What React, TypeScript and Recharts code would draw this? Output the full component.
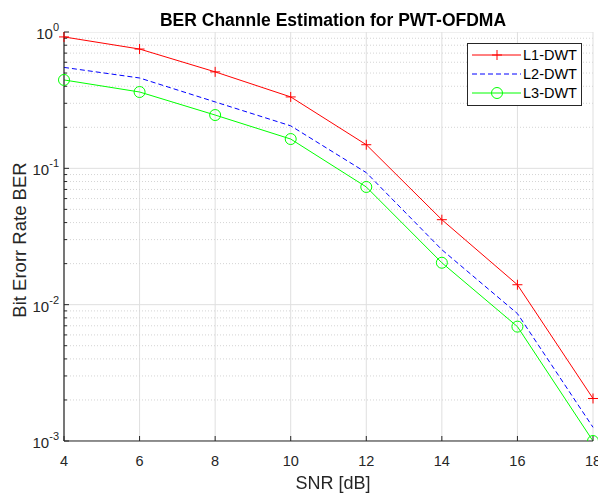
import React from 'react';
import { LineChart, Line, XAxis, YAxis, CartesianGrid, ReferenceLine } from 'recharts';

// SNR values (dB) and BER per wavelet level
const snr = [4, 6, 8, 10, 12, 14, 16, 18];
const l1Dwt = [0.92, 0.75, 0.51, 0.334, 0.149, 0.042, 0.014, 0.00205];
const l2Dwt = [0.55, 0.46, 0.307, 0.205, 0.093, 0.0253, 0.0086, 0.00126];
const l3Dwt = [0.445, 0.363, 0.246, 0.164, 0.073, 0.0203, 0.0069, 0.001];

const xTicks = [4, 6, 8, 10, 12, 14, 16, 18];
const majorY = [0.001, 0.01, 0.1, 1];
const exponents = ['-3', '-2', '-1', '0'];
const minorY = majorY.slice(0, 3).flatMap(d => [2, 3, 4, 5, 6, 7, 8, 9].map(m => +(m * d).toPrecision(3)));

const data = snr.map((s, i) => ({ snr: s, l1: l1Dwt[i], l2: l2Dwt[i], l3: l3Dwt[i] }));

const AXIS = '#262626';
const FONT = '"Liberation Sans", Arial, sans-serif';

const BottomTick = (props: any) => {
  const { x, y, payload } = props;
  return (
    <g>
      <line x1={x} x2={x} y1={y} y2={y - 5} stroke={AXIS} />
      <text x={x} y={y + 25} textAnchor="middle" fontSize={14.5} fill={AXIS} fontFamily={FONT}>
        {payload.value}
      </text>
    </g>
  );
};

const TopTick = (props: any) => {
  const { x, y } = props;
  return <line x1={x} x2={x} y1={y} y2={y + 5} stroke={AXIS} />;
};

const LeftTick = (props: any) => {
  const { x, y, payload } = props;
  const idx = majorY.indexOf(payload.value);
  const major = idx >= 0;
  return (
    <g>
      <line x1={x} x2={x + (major ? 5 : 3)} y1={y} y2={y} stroke={AXIS} />
      {major && (
        <text x={x - 5} y={y + 7} textAnchor="end" fontSize={15} fill={AXIS} fontFamily={FONT}>
          10
          <tspan dy={-8} fontSize={11}>
            {exponents[idx]}
          </tspan>
        </text>
      )}
    </g>
  );
};

const RightTick = (props: any) => {
  const { x, y, payload } = props;
  const major = majorY.indexOf(payload.value) >= 0;
  return <line x1={x} x2={x - (major ? 5 : 3)} y1={y} y2={y} stroke={AXIS} />;
};

const PlusDot = (props: any) => {
  const { cx, cy } = props;
  if (cx == null || cy == null) return null;
  return <path d={`M${cx - 5},${cy}h10M${cx},${cy - 5}v10`} stroke="#ff0000" strokeWidth={1} fill="none" />;
};

const CircleDot = (props: any) => {
  const { cx, cy } = props;
  if (cx == null || cy == null) return null;
  return <circle cx={cx} cy={cy} r={5.5} stroke="#00ff00" strokeWidth={1} fill="none" />;
};

const legendItems = [
  { name: 'L1-DWT', color: '#ff0000', dash: undefined, marker: 'plus' },
  { name: 'L2-DWT', color: '#0000ff', dash: '5 3', marker: 'none' },
  { name: 'L3-DWT', color: '#00ff00', dash: undefined, marker: 'circle' },
];

export default function App() {
  const allY = [...majorY, ...minorY].sort((a, b) => a - b);
  return (
    <div style={{ position: 'fixed', left: 0, top: 0, width: 598, height: 496, background: '#fff' }}>
      <LineChart width={598} height={496} data={data} margin={{ top: 32, right: 5, bottom: 0, left: 0 }}>
        <CartesianGrid horizontal={false} stroke="#dfdfdf" />
        {minorY.map(v => (
          <ReferenceLine key={`m${v}`} y={v} yAxisId="left" stroke="#d4d4d4" strokeDasharray="1 2" ifOverflow="hidden" />
        ))}
        {majorY.map(v => (
          <ReferenceLine key={`M${v}`} y={v} yAxisId="left" stroke="#dfdfdf" ifOverflow="hidden" />
        ))}
        <XAxis
          dataKey="snr"
          type="number"
          domain={[4, 18]}
          ticks={xTicks}
          height={55}
          tickSize={0}
          tickMargin={0}
          tickLine={false}
          axisLine={{ stroke: AXIS, strokeWidth: 1.2 }}
          tick={<BottomTick />}
          interval={0}
        />
        <XAxis
          xAxisId="top"
          orientation="top"
          dataKey="snr"
          type="number"
          domain={[4, 18]}
          ticks={xTicks}
          height={0}
          tickSize={0}
          tickMargin={0}
          tickLine={false}
          axisLine={{ stroke: AXIS, strokeWidth: 1.2 }}
          tick={<TopTick />}
          interval={0}
        />
        <YAxis
          yAxisId="left"
          scale="log"
          domain={[0.001, 1]}
          ticks={allY}
          allowDataOverflow
          width={64}
          tickSize={0}
          tickMargin={0}
          tickLine={false}
          axisLine={{ stroke: AXIS, strokeWidth: 1.2 }}
          tick={<LeftTick />}
          interval={0}
        />
        <YAxis
          yAxisId="right"
          orientation="right"
          scale="log"
          domain={[0.001, 1]}
          ticks={allY}
          allowDataOverflow
          width={0}
          tickSize={0}
          tickMargin={0}
          tickLine={false}
          axisLine={{ stroke: AXIS, strokeWidth: 1.2 }}
          tick={<RightTick />}
          interval={0}
        />
        <Line yAxisId="left" dataKey="l1" stroke="#ff0000" strokeWidth={1} dot={<PlusDot />} isAnimationActive={false} />
        <Line yAxisId="left" dataKey="l2" stroke="#0000ff" strokeWidth={1} strokeDasharray="5 3" dot={false} isAnimationActive={false} />
        <Line yAxisId="left" dataKey="l3" stroke="#00ff00" strokeWidth={1} dot={<CircleDot />} isAnimationActive={false} />
      </LineChart>

      <div style={{ position: 'absolute', left: 0, width: 666, top: 9, textAlign: 'center', fontFamily: FONT, fontWeight: 'bold', fontSize: 17.5, color: '#000', lineHeight: '22px', whiteSpace: 'nowrap' }}>
        BER Channle Estimation for PWT-OFDMA
      </div>
      <div style={{ position: 'absolute', left: 0, width: 666, top: 472, textAlign: 'center', fontFamily: FONT, fontSize: 18, color: AXIS, lineHeight: '22px' }}>
        SNR [dB]
      </div>
      <div
        style={{
          position: 'absolute',
          left: 20,
          top: 240,
          transform: 'translate(-50%, -50%) rotate(-90deg)',
          whiteSpace: 'nowrap',
          fontFamily: FONT,
          fontSize: 18.5,
          color: AXIS,
          lineHeight: '22px',
        }}
      >
        Bit Erorr Rate BER
      </div>

      <div style={{ position: 'absolute', left: 467, top: 43, width: 115, height: 63, border: `1px solid ${AXIS}`, background: '#fff', boxSizing: 'border-box' }}>
        <svg width={115} height={63} style={{ position: 'absolute', left: -1, top: -1 }}>
          {legendItems.map((it, i) => {
            const y = 12 + i * 19;
            return (
              <g key={it.name}>
                <line x1={5} x2={54} y1={y} y2={y} stroke={it.color} strokeDasharray={it.dash} />
                {it.marker === 'plus' && <path d={`M${30 - 5},${y}h10M30,${y - 5}v10`} stroke={it.color} />}
                {it.marker === 'circle' && <circle cx={30} cy={y} r={5.5} stroke={it.color} fill="none" />}
                <text x={56} y={y + 5} fontSize={14.5} fill="#000" fontFamily={FONT}>
                  {it.name}
                </text>
              </g>
            );
          })}
        </svg>
      </div>
    </div>
  );
}
